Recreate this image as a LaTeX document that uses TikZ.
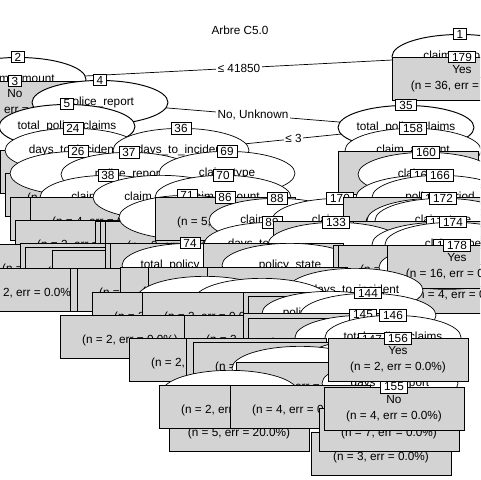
\documentclass[tikz,border=0pt]{standalone}
\usepackage{fontspec}
\setmainfont{Liberation Sans}
\usetikzlibrary{shapes.geometric}
\definecolor{leafgrey}{RGB}{211,211,211}
\pgfdeclarelayer{edges}
\pgfsetlayers{edges,main}

\begin{document}
\begin{tikzpicture}[x=0.02cm, y=-0.02cm,
  font=\fontsize{6.7}{9}\selectfont, line width=0.55pt,
  split/.style={ellipse, draw, fill=white, anchor=north, inner sep=0pt,
    minimum width=2.72cm, minimum height=0.88cm},
  leaf/.style={draw, fill=leafgrey, anchor=north, inner sep=0pt,
    minimum width=2.8cm, minimum height=0.86cm, align=center},
  idbox/.style={draw, fill=white, inner xsep=2pt, inner ysep=1pt},
  edgelab/.style={fill=white, inner sep=1pt},
]
  \useasboundingbox (0,0) rectangle (480,480);
  \clip (0,0) rectangle (480,480);
  \node (title) at (240,30) {Arbre C5.0};

  % top of the tree
  \node[split, label={center:claim\_amount}] (n1) at (460,34) {}; \node[idbox] at (n1.north) {1};
  \node[leaf] (n179) at (462,57) {Yes\\(n = 36, err = 0.0\%)}; \node[idbox] at (n179.north) {179};
  \node[split, label={center:claim\_amount}] (n2) at (18,57) {}; \node[idbox] at (n2.north) {2};
  \node[leaf] (n3) at (15,81) {No\\(n = 6, err = 0.0\%)}; \node[idbox] at (n3.north) {3};
  \node[split, label={center:police\_report}] (n4) at (100,80) {}; \node[idbox] at (n4.north) {4};
  \node[split, label={center:total\_policy\_claims}] (n5) at (67,104) {}; \node[idbox] at (n5.north) {5};
  \node[split, label={center:total\_policy\_claims}] (n35) at (406,105) {}; \node[idbox] at (n35.north) {35};

  % connectors, kept under the nodes
  \begin{pgfonlayer}{edges}
    \fill[white] (0,0) rectangle (480,480);
    \draw (n1.center) -- (n2.center) node[edgelab, midway] {≤ 41850};
    \draw (n1.center) -- (n179.center);
    \draw (n2.center) -- (n3.center);
    \draw (n2.center) -- (n4.center);
    \draw (n4.center) -- (n35.center) node[edgelab, midway] {No, Unknown};
  \end{pgfonlayer}

  % second level
  \node[leaf] (lf6) at (70,150) {\mbox{}\\(n = 2, err = 0.0\%)};
  \node[split, label={center:days\_to\_incident}] (n24) at (73,128) {}; \node[idbox] at (n24.north) {24};
  \node[split, label={center:days\_to\_incident}] (n36) at (181,128) {}; \node[idbox] at (n36.north) {36};
  \node[split, label={center:claim\_amount}] (n158) at (413,128) {}; \node[idbox] at (n158.north) {158};
  \begin{pgfonlayer}{edges}
    \draw (n35.center) -- (n36.center) node[edgelab, midway] {≤ 3};
  \end{pgfonlayer}
  \node[leaf] (lf7) at (75,173) {\mbox{}\\(n = 3, err = 0.0\%)};
  \node[split] (n26) at (78,151) {}; \node[idbox] at (n26.north) {26};
  \node[split, label={center:police\_report}] (n37) at (129,152) {}; \node[idbox] at (n37.north) {37};
  \node[split, label={center:claim\_type}] (n69) at (227,151) {}; \node[idbox] at (n69.north) {69};
  \node[leaf] (lr159) at (408,151) {\mbox{}\\(n = 3, err = 0.0\%)};
  \node[split, label={center:claim\_type}] (n160) at (426,152) {}; \node[idbox] at (n160.north) {160};
  \node[leaf] (lf8) at (80,197) {\mbox{}\\(n = 2, err = 0.0\%)};
  \node[split, label={center:claim\_amount}] (n38) at (108,175) {}; \node[idbox] at (n38.north) {38};
  \node[leaf] (lf30) at (100,197) {\mbox{}\\(n = 4, err = 0.0\%)};
  \node[split, label={center:claim\_amount}] (sp161) at (161,175) {};
  \node[split, label={center:claim\_amount}] (n70) at (223,175) {}; \node[idbox] at (n70.north) {70};
  \node[split, label={center:policy\_period}] (n161) at (424,175) {}; \node[idbox] at (n161.north) {161};
  \node[split, label={center:policy\_period}] (n166) at (440,175) {}; \node[idbox] at (n166.north) {166};

  % third level
  \node[leaf] (lf9) at (85,220) {\mbox{}\\(n = 2, err = 0.0\%)};
  \node[leaf] (lm1) at (165,221) {\mbox{}\\(n = 2, err = 0.0\%)};
  \node[leaf] (lm2) at (170,221) {\mbox{}\\(n = 2, err = 0.0\%)};
  \node[leaf] (lm3) at (175,221) {\mbox{}\\(n = 3, err = 0.0\%)};
  \node[split] (n71) at (187,195) {}; \node[idbox] at (n71.north) {71};
  \node[leaf] (n86) at (225,197) {\mbox{}\\(n = 5, err = 0.0\%)}; \node[idbox] at (n86.north) {86};
  \node[split, label={center:claim\_amount}] (n88) at (277,198) {}; \node[idbox] at (n88.north) {88};
  \node[split, label={center:claim\_type}] (n170) at (340,198) {}; \node[idbox] at (n170.north) {170};
  \node[leaf] (lr1) at (413,197) {\mbox{}\\(n = 6, err = 0.0\%)};
  \node[split] (n165) at (435,198) {}; \node[idbox] at (n165.north) {165};
  \node[split, label={center:claim\_type}] (n172) at (443,198) {}; \node[idbox] at (n172.north) {172};
  \node[split, label={center:days\_to\_incident}] (n89) at (272,222) {}; \node[idbox] at (n89.north) {89};
  \node[leaf] (lr2) at (343,221) {\mbox{}\\(n = 2, err = 0.0\%)};
  \node[leaf] (lr21) at (418,221) {\mbox{}\\(n = 2, err = 0.0\%)};
  \node[leaf] (lr22) at (423,221) {\mbox{}\\(n = 2, err = 0.0\%)};
  \node[split] (n133) at (336,222) {}; \node[idbox] at (n133.north) {133};
  \node[split, label={center:claim\_type}] (n173) at (440,222) {}; \node[idbox] at (n173.north) {173};
  \node[split, label={center:claim\_type}] (n174) at (453,222) {}; \node[idbox] at (n174.north) {174};

  % fourth level
  \node[leaf] (lf50) at (50,244) {\mbox{}\\(n = 3, err = 0.0\%)};
  \node[leaf] (lf10) at (90,243) {\mbox{}\\(n = 3, err = 0.0\%)};
  \node[leaf] (lf11) at (95,247) {\mbox{}\\(n = 2, err = 0.0\%)};
  \node[leaf] (lf12) at (122,250) {\mbox{}\\(n = 2, err = 0.0\%)};
  \node[leaf] (lm5) at (175,243) {\mbox{}\\(n = 2, err = 0.0\%)};
  \node[leaf] (lm6) at (180,243) {\mbox{}\\(n = 2, err = 0.0\%)};
  \node[split, label={center:total\_policy\_claims}] (n74) at (190,243) {}; \node[idbox] at (n74.north) {74};
  \node[leaf] (lm7) at (273,243) {\mbox{}\\(n = 2, err = 0.0\%)};
  \node[split, label={center:policy\_state}] (sp1) at (290,243) {};
  \node[leaf] (lr3) at (403,245) {\mbox{}\\(n = 2, err = 0.0\%)};
  \node[leaf] (lr31) at (408,245) {\mbox{}\\(n = 2, err = 0.0\%)};
  \node[leaf] (lr4) at (462,270) {\mbox{}\\(n = 4, err = 0.0\%)};
  \node[split] (n177) at (447,245) {}; \node[idbox] at (n177.north) {177};
  \node[leaf] (n178) at (457,245) {Yes\\(n = 16, err = 0.0\%)}; \node[idbox] at (n178.north) {178};

  % fifth level
  \node[leaf] (lf20) at (27,268) {\mbox{}\\(n = 2, err = 0.0\%)};
  \node[leaf] (lm8) at (140,268) {\mbox{}\\(n = 2, err = 0.0\%)};
  \node[leaf] (lm9) at (147,268) {\mbox{}\\(n = 2, err = 0.0\%)};
  \node[leaf] (lm11) at (190,267) {\mbox{}\\(n = 2, err = 0.0\%)};
  \node[leaf] (lm12) at (218,267) {\mbox{}\\(n = 3, err = 0.0\%)};
  \node[leaf] (lm13) at (277,267) {\mbox{}\\(n = 2, err = 0.0\%)};
  \node[split, label={center:days\_to\_incident}] (sp24) at (355,268) {};

  % sixth level
  \node[split] (sp26) at (205,276) {};
  \node[split] (sp27) at (262,278) {};
  \node[leaf] (lm14) at (162,292) {\mbox{}\\(n = 2, err = 0.0\%)};
  \node[leaf] (lm15) at (212,292) {\mbox{}\\(n = 2, err = 0.0\%)};
  \node[leaf] (lm151) at (313,292) {\mbox{}\\(n = 2, err = 0.0\%)};
  \node[leaf] (lm152) at (318,296) {\mbox{}\\(n = 2, err = 0.0\%)};
  \node[split, label={center:policy\_deductable}] (sp3) at (330,291) {};
  \node[split] (n144) at (368,293) {}; \node[idbox] at (n144.north) {144};

  % seventh level
  \node[leaf] (lm16) at (130,315) {\mbox{}\\(n = 2, err = 0.0\%)};
  \node[leaf] (lm17) at (254,315) {\mbox{}\\(n = 2, err = 0.0\%)};
  \node[leaf] (lm18) at (313,313) {\mbox{}\\(n = 2, err = 0.0\%)};
  \node[leaf] (lm19) at (318,318) {\mbox{}\\(n = 2, err = 0.0\%)};
  \node[split] (n145) at (363,315) {}; \node[idbox] at (n145.north) {145};
  \node[split, label={center:total\_policy\_claims}] (n146) at (393,315) {}; \node[idbox] at (n146.north) {146};

  % eighth level
  \node[leaf] (lm20) at (199,338) {\mbox{}\\(n = 2, err = 0.0\%)};
  \node[leaf] (lm21) at (256,338) {\mbox{}\\(n = 2, err = 0.0\%)};
  \node[leaf] (lm22) at (263,342) {\mbox{}\\(n = 2, err = 0.0\%)};
  \node[split] (n147) at (372,339) {}; \node[idbox] at (n147.north) {147};
  \node[split] (sp32) at (300,346) {};
  \node[leaf] (lm23) at (306,362) {\mbox{}\\(n = 5, err = 0.0\%)};
  \node[split, label={center:days\_to\_report}] (sp4) at (390,361) {};

  % bottom leaves
  \node[leaf] (lf24) at (239,408) {\mbox{}\\(n = 5, err = 20.0\%)};
  \node[split] (sp33) at (230,370) {};
  \node[leaf] (lf18) at (229,385) {\mbox{}\\(n = 2, err = 0.0\%)};
  \node[leaf] (lf25) at (300,385) {\mbox{}\\(n = 4, err = 0.0\%)};
  \node[leaf] (lr5) at (381,432) {\mbox{}\\(n = 3, err = 0.0\%)};
  \node[leaf] (lr6) at (389,408) {\mbox{}\\(n = 7, err = 0.0\%)};
  \node[leaf] (n155) at (394,387) {No\\(n = 4, err = 0.0\%)}; \node[idbox] at (n155.north) {155};
  \node[leaf] (n156) at (398,338) {Yes\\(n = 2, err = 0.0\%)}; \node[idbox] at (n156.north) {156};
\end{tikzpicture}
\end{document}
